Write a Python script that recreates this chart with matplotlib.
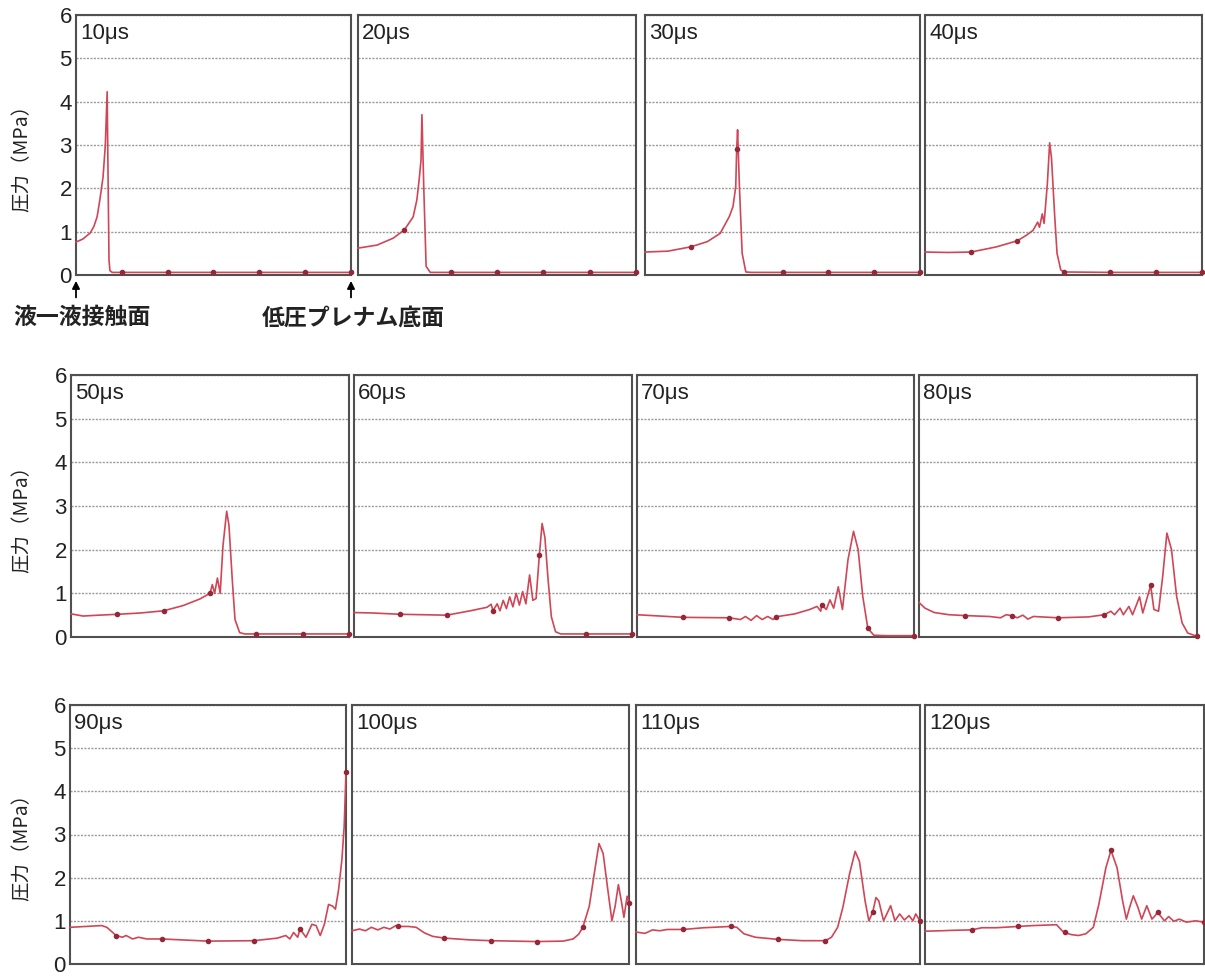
import matplotlib
matplotlib.use("Agg")
import matplotlib.pyplot as plt
import numpy as np

plt.rcParams['font.family'] = ['Liberation Sans', 'Noto Sans CJK JP', 'DejaVu Sans']

# time of each snapshot
labels = ["10μs", "20μs", "30μs", "40μs",
          "50μs", "60μs", "70μs", "80μs",
          "90μs", "100μs", "110μs", "120μs"]

# position along the tube (0 = liquid-liquid contact face, 60 = plenum bottom)
# and pressure (MPa)
x_10 = [0, 1.5, 3.1, 3.9, 4.6, 5.2, 5.9, 6.4, 6.8, 7.0, 7.2, 7.4, 7.9, 10, 20, 30, 40, 50, 60]
p_10 = [0.76, 0.83, 0.97, 1.12, 1.34, 1.73, 2.26, 3.0, 4.23, 2.2, 0.35, 0.1, 0.06, 0.06, 0.06, 0.06, 0.06, 0.06, 0.06]

x_20 = [0, 4.1, 7.6, 10, 11.9, 12.7, 13.2, 13.6, 13.8, 14.2, 14.7, 15.6, 20, 30, 40, 50, 60]
p_20 = [0.62, 0.69, 0.85, 1.04, 1.34, 1.73, 2.2, 2.65, 3.7, 2.0, 0.2, 0.06, 0.06, 0.06, 0.06, 0.06, 0.06]

x_30 = [0, 5, 10, 13.6, 16.4, 18.4, 19.2, 19.8, 20.0, 20.2, 20.6, 21.2, 22.0, 23.2, 30, 40, 50, 60]
p_30 = [0.53, 0.55, 0.65, 0.77, 0.96, 1.35, 1.58, 2.04, 2.9, 3.35, 2.04, 0.5, 0.07, 0.06, 0.06, 0.06, 0.06, 0.06]

x_40 = [0, 5, 10, 15.5, 20, 22, 23.4, 24.4, 24.8, 25.4, 25.8, 26.5, 27.0, 27.4, 28.1, 28.6, 29.4, 30, 40, 50, 60]
p_40 = [0.53, 0.52, 0.53, 0.65, 0.79, 0.92, 1.03, 1.22, 1.1, 1.41, 1.19, 2.1, 3.05, 2.7, 1.35, 0.5, 0.12, 0.07, 0.06, 0.06, 0.06]

x_50 = [0, 2.6, 6, 10, 15, 20, 24.2, 27.8, 30, 30.5, 31.0, 31.6, 32.2, 32.8, 33.6, 34.1, 34.8, 35.4, 36.4, 37.5, 40, 50, 60]
p_50 = [0.53, 0.48, 0.5, 0.52, 0.55, 0.6, 0.72, 0.87, 1.0, 1.2, 1.0, 1.35, 1.0, 2.09, 2.88, 2.55, 1.32, 0.4, 0.1, 0.07, 0.07, 0.07, 0.07]

x_60 = [0, 4.0, 10, 20, 25.1, 28.7, 29.6, 30, 30.9, 31.5, 32.2, 32.9, 33.6, 34.3, 35.0, 35.7, 36.4, 37.1,
        37.9, 38.6, 39.3, 40, 40.6, 41.2, 41.9, 42.6, 43.5, 44.6, 50, 60]
p_60 = [0.56, 0.55, 0.52, 0.5, 0.6, 0.68, 0.75, 0.6, 0.76, 0.6, 0.84, 0.65, 0.92, 0.69, 1.0, 0.73, 1.04, 0.76,
        1.42, 0.84, 0.88, 1.87, 2.6, 2.28, 1.3, 0.46, 0.12, 0.07, 0.07, 0.07]

x_70 = [0, 10, 20, 22.4, 23.5, 24.7, 25.9, 27.1, 28.3, 29.5, 30, 34.2, 37.4, 39.0, 39.8, 40, 41.0, 41.8,
        42.6, 43.6, 44.5, 45.7, 46.9, 47.9, 48.9, 50, 51.3, 54.1, 60]
p_70 = [0.51, 0.45, 0.44, 0.40, 0.47, 0.38, 0.49, 0.40, 0.47, 0.40, 0.46, 0.53, 0.63, 0.70, 0.59, 0.74, 0.63, 0.85,
        0.66, 1.15, 0.63, 1.77, 2.42, 2.0, 0.93, 0.2, 0.04, 0.03, 0.03]

x_80 = [0, 1.3, 3.3, 6.5, 10, 15.2, 17.6, 18.8, 20, 21.2, 22.4, 23.5, 24.7, 30, 36.6, 40, 41.4, 42.2, 43.4,
        44.1, 45.3, 46.1, 47.6, 48.3, 50, 50.7, 51.7, 52.6, 53.5, 54.5, 55.6, 56.8, 58.0, 59.6, 60]
p_80 = [0.79, 0.66, 0.56, 0.51, 0.49, 0.47, 0.44, 0.51, 0.49, 0.44, 0.5, 0.41, 0.47, 0.44, 0.46, 0.51, 0.59, 0.51, 0.66,
        0.51, 0.70, 0.51, 0.92, 0.55, 1.18, 0.63, 0.59, 1.39, 2.38, 2.0, 0.93, 0.32, 0.09, 0.03, 0.03]

x_90 = [0, 6.9, 8.0, 9.6, 10, 11.4, 12.2, 13.6, 14.9, 16.7, 20, 30, 40, 45.1, 46.9, 47.8, 48.6, 49.5, 50,
        51.3, 52.6, 53.5, 54.4, 55.3, 56.2, 57.1, 57.7, 58.4, 59.1, 59.6, 60]
p_90 = [0.85, 0.89, 0.85, 0.70, 0.66, 0.62, 0.66, 0.58, 0.62, 0.58, 0.58, 0.53, 0.54, 0.6, 0.66, 0.58, 0.73, 0.62, 0.81,
        0.62, 0.92, 0.89, 0.66, 0.92, 1.38, 1.34, 1.27, 1.73, 2.41, 3.18, 4.44]

x_100 = [0, 1.6, 2.9, 4.2, 5.6, 6.9, 8.2, 9.5, 10, 12.2, 13.9, 15.7, 17.5, 20, 25.4, 30, 35.1, 40, 45.7,
         47.9, 49.1, 50, 51.4, 52.6, 53.5, 54.4, 55.4, 56.3, 57.0, 57.7, 58.4, 58.9, 59.6, 60]
p_100 = [0.77, 0.81, 0.77, 0.85, 0.79, 0.85, 0.81, 0.89, 0.87, 0.87, 0.85, 0.72, 0.64, 0.6, 0.56, 0.54, 0.53, 0.52, 0.53,
         0.58, 0.69, 0.85, 1.34, 2.18, 2.79, 2.56, 1.73, 1.0, 1.34, 1.84, 1.42, 1.08, 1.57, 1.42]

x_110 = [0, 1.9, 3.5, 5.0, 6.6, 10, 14.3, 20, 21.3, 22.8, 25.2, 30, 35.2, 40, 41.3, 42.6, 43.7, 45.1, 46.3,
         47.2, 48.4, 49.2, 50, 50.7, 51.3, 52.3, 53.8, 54.7, 55.7, 56.7, 57.7, 58.5, 59.1, 60]
p_110 = [0.74, 0.71, 0.79, 0.77, 0.80, 0.80, 0.84, 0.87, 0.85, 0.70, 0.62, 0.57, 0.54, 0.54, 0.62, 0.85, 1.31, 2.08, 2.61,
         2.38, 1.46, 1.0, 1.2, 1.54, 1.46, 1.0, 1.35, 1.0, 1.16, 1.02, 1.12, 1.0, 1.16, 1.0]

x_120 = [0, 3.5, 5.9, 10, 12.2, 15.3, 20, 23.2, 28.3, 29.5, 30, 31.5, 33.0, 34.6, 36.2, 37.4, 38.9, 40,
         41.3, 42.5, 43.3, 44.0, 44.8, 45.8, 46.6, 47.7, 48.8, 49.5, 50, 51.5, 52.4, 53.5, 54.7, 56.2, 58.2, 60]
p_120 = [0.76, 0.77, 0.78, 0.79, 0.84, 0.84, 0.87, 0.89, 0.91, 0.77, 0.73, 0.68, 0.66, 0.70, 0.85, 1.39, 2.23, 2.63,
         2.23, 1.46, 1.04, 1.31, 1.58, 1.31, 1.04, 1.35, 1.04, 1.12, 1.2, 1.0, 1.1, 0.99, 1.04, 0.97, 1.0, 0.97]

series = [(x_10, p_10), (x_20, p_20), (x_30, p_30), (x_40, p_40),
          (x_50, p_50), (x_60, p_60), (x_70, p_70), (x_80, p_80),
          (x_90, p_90), (x_100, p_100), (x_110, p_110), (x_120, p_120)]

W, H = 1205, 977
# panel boxes in pixels: left, top, right, bottom
boxes = [(76, 15, 351, 275), (358, 15, 636, 275), (645, 15, 920, 275), (925, 15, 1202, 275),
         (71, 375, 349, 637), (354, 375, 632, 637), (637, 375, 914, 637), (919, 375, 1197, 637),
         (70, 705, 346, 964), (352, 705, 629, 964), (636, 705, 920, 964), (925, 705, 1204, 964)]

LINE = '#d04656'
DOT = '#952838'
cjk = ['Noto Sans CJK JP', 'DejaVu Sans']

fig = plt.figure(figsize=(W / 100, H / 100), dpi=100)

axes = []
for i, ((xs, ps), lab, (l, t, r, b)) in enumerate(zip(series, labels, boxes)):
    ax = fig.add_axes([l / W, 1 - b / H, (r - l) / W, (b - t) / H])
    axes.append(ax)
    xs = np.array(xs, dtype=float)
    ps = np.array(ps, dtype=float)
    marks = list(np.where((xs > 0) & np.isclose(xs % 10, 0))[0])
    ax.plot(xs, ps, color=LINE, lw=1.2, marker='o', ms=3, mfc=DOT, mec=DOT,
            markevery=marks, clip_on=False, zorder=3)
    ax.set_xlim(0, 60)
    ax.set_ylim(0, 6)
    ax.set_xticks([])
    ax.set_yticks(range(7))
    ax.yaxis.grid(True, color='#9a9a9a', linestyle=(0, (1.5, 1)), lw=1.0)
    ax.tick_params(axis='y', length=0, pad=3, labelsize=16, colors='#222222')
    if i % 4 != 0:
        ax.set_yticklabels([])
    for s in ax.spines.values():
        s.set_color('#505050')
        s.set_linewidth(1.5)
    ax.text(0.015, 0.97, lab, transform=ax.transAxes, ha='left', va='top',
            fontsize=16, color='#222222')

# y-axis titles for each row
for row in range(3):
    l, t, r, b = boxes[row * 4]
    yc = (t + b) / 2 + 8
    fig.text(22 / W, 1 - yc / H, "圧力（MPa）", rotation=90, ha='center', va='center',
             fontsize=14, family=cjk, color='#222222')

# arrows marking both ends of the tube under the first panel
ax0 = axes[0]
for xa, txt, xt in [(0.0, "液一液接触面", 0.022), (1.0, "低圧プレナム底面", 1.01)]:
    ax0.annotate('', xy=(xa, -0.012), xytext=(xa, -0.097), xycoords='axes fraction',
                 arrowprops=dict(arrowstyle='-|>', color='black', lw=1.3, mutation_scale=11),
                 annotation_clip=False)
    ax0.text(xt, -0.165, txt, transform=ax0.transAxes, ha='center', va='center',
             fontsize=16.5, fontweight='bold', family=cjk, color='#222222')

fig.savefig('out.png', dpi=100)
